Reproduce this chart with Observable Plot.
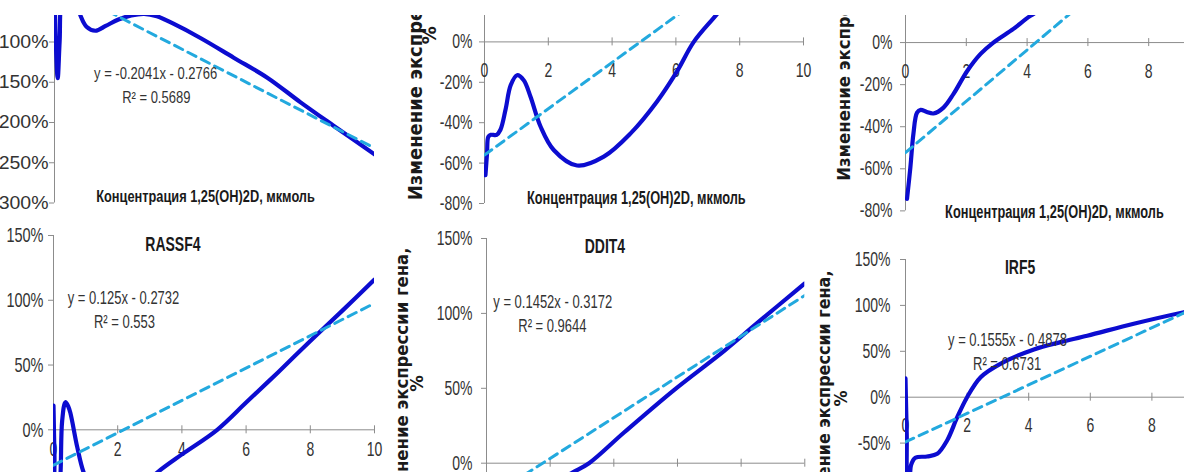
<!DOCTYPE html>
<html><head><meta charset="utf-8">
<script src="https://cdn.jsdelivr.net/npm/d3@7"></script>
<script src="https://cdn.jsdelivr.net/npm/@observablehq/plot@0.6"></script>
<style>
html,body{margin:0;padding:0;background:#fff;}
#fig{position:relative;width:1184px;height:472px;overflow:hidden;background:#fff;}
.row{position:absolute;left:0;width:1184px;overflow:hidden;}
.row svg{position:absolute;max-width:none;}
</style></head><body>
<div id="fig"><div class="row" id="bottom" style="top:0;height:472px"></div><div class="row" id="top" style="top:15px;height:457px"></div></div>
<script>
// ---------- data ----------
const xTicks = [0, 2, 4, 6, 8, 10];
const xTickLabels2 = [0, 2, 4, 6, 8, 10];
const xTickLabels3 = [0, 2, 4, 6, 8];
const xTickLabels4 = [0, 2, 4, 6, 8, 10];
const xTickLabels6 = [0, 2, 4, 6, 8];
const xTitle = "Концентрация 1,25(OH)2D, мкмоль";
const yTitleLine = "Изменение экспрессии гена,";
const yTitleUnit = "%";
const titles = [null, null, null, "RASSF4", "DDIT4", "IRF5"];
const equations = ["y = -0.2041x - 0.2766", null, null, "y = 0.125x - 0.2732", "y = 0.1452x - 0.3172", "y = 0.1555x - 0.4878"];
const r2Labels = ["R² = 0.5689", null, null, "R² = 0.553", "R² = 0.9644", "R² = 0.6731"];

const yTicks1 = [-300, -250, -200, -150, -100];
const yTicks2 = [-80, -60, -40, -20, 0];
const yTicks3 = [-80, -60, -40, -20, 0];
const yTicks4 = [0, 50, 100, 150];
const yTicks5 = [0, 50, 100, 150];
const yTicks6 = [-50, 0, 50, 100, 150];

const curve1X = [0, 0.04, 0.1, 0.16, 0.25, 0.45, 0.65, 0.82, 1.0, 1.28, 1.6, 2.0, 2.4, 2.8, 3.2, 3.7, 4.56, 5.6, 6.65, 7.69, 8.72, 10];
const curve1Y = [-30, -100, -145, -100, -40, -30, -45, -68, -81, -86, -80, -72, -67, -65, -68, -77, -95, -119.5, -144.3, -175, -204, -239.5];
const trend1X = [0, 10];
const trend1Y = [-27.66, -231.76];

const curve2X = [0.03, 0.08, 0.12, 0.2, 0.38, 0.5, 0.66, 0.82, 1.02, 1.23, 1.44, 1.76, 2.17, 2.9, 3.74, 4.58, 5.41, 6.04, 6.56, 7.3, 8, 9, 10];
const curve2Y = [-66, -55, -47, -46, -46, -43.5, -33.5, -21.5, -16.5, -19, -27, -42, -53.5, -61.2, -56.8, -45.3, -29.5, -14.5, 0, 14, 28, 48, 70];
const trend2X = [0, 10];
const trend2Y = [-56, 58.6];

const curve3X = [0.05, 0.16, 0.26, 0.38, 0.5, 0.7, 0.92, 1.25, 1.58, 2.03, 2.47, 2.89, 3.55, 4.11, 5, 6, 8, 10];
const curve3Y = [-74.3, -59.4, -43.4, -33.3, -32, -33, -33.7, -30.9, -24.4, -13.5, -5.4, 0, 6.5, 12.7, 20, 28, 42, 55];
const trend3X = [0, 10];
const trend3Y = [-52.3, 69.7];

const curve4X = [0, 0.03, 0.07, 0.15, 0.22, 0.27, 0.37, 0.46, 0.53, 0.74, 0.94, 1.3, 1.9, 2.6, 3.23, 4.0, 5.1, 6.0, 7.0, 8.0, 9.0, 10];
const curve4Y = [18.7, -20, -60, -60, -33, 7, 21.3, 18, 12.6, -13.4, -33, -52, -58, -48, -33, -19, 0, 21, 44.5, 68.5, 92, 116];
const trend4X = [0, 10];
const trend4Y = [-27.32, 97.68];

const curve5X = [0, 1, 2, 2.7, 3.22, 4.32, 5.9, 7.47, 8.5, 10];
const curve5Y = [-40, -28, -15, -6.2, 0, 20.5, 49, 75, 93.5, 120];
const trend5X = [0, 10];
const trend5Y = [-24, 112];

const curve6X = [0, 0.04, 0.08, 0.12, 0.18, 0.32, 0.7, 1.03, 1.35, 1.68, 2.0, 2.44, 3.08, 4.17, 5.03, 5.9, 7.41, 9.04, 10];
const curve6Y = [20.4, -40, -95, -95, -74, -66, -64.6, -61.7, -47.2, -21.8, 0, 21.8, 36.4, 52, 60, 67, 80, 92.6, 99];
const trend6X = [0, 10];
const trend6Y = [-48.78, 106.72];

// ---------- layout (pixel calibration of each Excel panel) ----------
const AX = "#8c8c8c", TXT = "#333", DARK = "#1a1a1a", BLUE = "#0c0cd0", LBLUE = "#23a9de";
const S_ROT = 1.05;
const pct = d => `${d}%`;

const panels = [
  {row: "top", x0: 54, x10: 374, yA: [-100, 41], yB: [-300, 202], dom: [-300, 0], yTicks: yTicks1, xLabs: [], gap: 6, xDy: 35,
   tickFont: 19.5, tickS: 0.93, textS: 1.28,
   cx: curve1X, cy: curve1Y, tx: trend1X, ty: trend1Y, i: 0,
   eqAt: [[3.16, -146], [3.18, -175.4]], xTitleAt: [4.72, -298.4]},
  {row: "top", x0: 484, x10: 803, yA: [0, 41.7], yB: [-80, 203.3], dom: [-80, 20], yTicks: yTicks2, xLabs: xTickLabels2, gap: 12, xDy: 35,
   rotFont: 18,
   cx: curve2X, cy: curve2Y, tx: trend2X, ty: trend2Y, i: 1,
   xTitleAt: [4.76, -80], yTitleAt: [-1.95, -78.4, "start"], unitAt: [-1.52, 3.3]},
  {row: "top", x0: 905, x10: 1209, yA: [0, 41.7], yB: [-80, 210], dom: [-80, 20], yTicks: yTicks3, xLabs: xTickLabels3, gap: 13, xDy: 35,
   rotFont: 16.5,
   cx: curve3X, cy: curve3Y, tx: trend3X, ty: trend3Y, i: 2,
   xTitleAt: [4.9, -83.3], yTitleAt: [-1.81, -65.7, "start"]},
  {row: "bottom", x0: 53, x10: 374, yA: [0, 429.3], yB: [150, 235], dom: [-50, 150], yTicks: yTicks4, xLabs: xTickLabels4, gap: 10, xDy: 26,
   tickFont: 14.5,
   cx: curve4X, cy: curve4Y, tx: trend4X, ty: trend4Y, i: 3,
   titleAt: [3.72, 138.3], eqAt: [[2.18, 97.5], [2.21, 78.9]]},
  {row: "bottom", x0: 485.7, x10: 804, yA: [0, 462.7], yB: [150, 238], dom: [-50, 150], yTicks: yTicks5, xLabs: [], gap: 14, xDy: 35,
   rotFont: 16.5,
   cx: curve5X, cy: curve5Y, tx: trend5X, ty: trend5Y, i: 4,
   titleAt: [3.72, 140.5], eqAt: [[2.08, 103.7], [2.07, 87.4]], yTitleAt: [-2.48, 144, "end"], unitAt: [-2.01, 53.2]},
  {row: "bottom", x0: 905, x10: 1213, yA: [0, 396.7], yB: [150, 259], dom: [-100, 150], yTicks: yTicks6, xLabs: xTickLabels6, gap: 15, xDy: 35,
   rotFont: 16,
   cx: curve6X, cy: curve6Y, tx: trend6X, ty: trend6Y, i: 5,
   titleAt: [3.72, 134.7], eqAt: [[3.31, 56.3], [3.30, 29.1]], yTitleAt: [-2.44, 138, "end"], unitAt: [-1.89, -1.4]}
];

function build(cfg) {
  const tickFont = cfg.tickFont || 14, tickS = cfg.tickS || 1.45, textS = cfg.textS || 1.45, rotFont = cfg.rotFont || 16;
  const pxX = (cfg.x10 - cfg.x0) / 10;
  const k = (cfg.yB[1] - cfg.yA[1]) / (cfg.yB[0] - cfg.yA[0]);
  const py = v => cfg.yA[1] + (v - cfg.yA[0]) * k;
  const mL = 130, mR = 30, mT = 20, mB = 60;
  const yTop = py(cfg.dom[1]), yBot = py(cfg.dom[0]);
  const width = mL + (cfg.x10 - cfg.x0) + mR;
  const height = mT + (yBot - yTop) + mB;
  const ux = 1 / pxX, uy = -1 / k;
  const curve = cfg.cx.map((x, j) => ({x, y: cfg.cy[j]}));
  const trend = cfg.tx.map((x, j) => ({x, y: cfg.ty[j]}));
  const marks = [
    Plot.ruleX([0], {stroke: AX}),
    Plot.ruleY(cfg.yTicks, {y: d => d, x1: 0, x2: -5 * ux, stroke: AX}),
    Plot.text(cfg.yTicks, {x: 0, y: d => d, text: pct, textAnchor: "end", dx: -cfg.gap, fontSize: tickFont, fill: TXT}),
    Plot.ruleY([0], {x1: 0, x2: 10, stroke: AX}),
    Plot.ruleX(xTicks, {x: d => d, y1: -4 * uy, y2: 4 * uy, stroke: AX}),
    Plot.text(cfg.xLabs, {x: d => d, y: 0, dy: cfg.xDy, text: d => String(d), lineAnchor: "bottom", fontSize: 14, fill: TXT}),
    Plot.line(curve, {x: "x", y: "y", curve: "catmull-rom", stroke: BLUE, strokeWidth: 4.2, strokeLinejoin: "round", clip: true}),
    Plot.line(trend, {x: "x", y: "y", stroke: LBLUE, strokeWidth: 3, strokeDasharray: "9,6", clip: true})
  ];
  const t = titles[cfg.i];
  if (t && cfg.titleAt) marks.push(Plot.text([t], {x: cfg.titleAt[0], y: cfg.titleAt[1], text: d => d, fontSize: 14, fontWeight: "bold", lineAnchor: "bottom", fill: DARK}));
  if (equations[cfg.i] && cfg.eqAt) {
    marks.push(Plot.text([equations[cfg.i]], {x: cfg.eqAt[0][0], y: cfg.eqAt[0][1], text: d => d, fontSize: 13, lineAnchor: "bottom", fill: TXT}));
    marks.push(Plot.text([r2Labels[cfg.i]], {x: cfg.eqAt[1][0], y: cfg.eqAt[1][1], text: d => d, fontSize: 13, lineAnchor: "bottom", fill: TXT}));
  }
  if (cfg.xTitleAt) marks.push(Plot.text([xTitle], {x: cfg.xTitleAt[0], y: cfg.xTitleAt[1], text: d => d, fontSize: 12.8, fontWeight: "bold", lineAnchor: "bottom", fill: DARK}));
  if (cfg.yTitleAt) marks.push(Plot.text([yTitleLine], {x: cfg.yTitleAt[0], y: cfg.yTitleAt[1], text: d => d, rotate: -90, textAnchor: cfg.yTitleAt[2], fontSize: rotFont, fontWeight: "bold", fontFamily: "DejaVu Sans, Verdana, sans-serif", lineAnchor: "bottom", fill: DARK}));
  if (cfg.unitAt) marks.push(Plot.text([yTitleUnit], {x: cfg.unitAt[0], y: cfg.unitAt[1], text: d => d, rotate: -90, textAnchor: "middle", fontSize: rotFont, fontWeight: "bold", fontFamily: "DejaVu Sans, Verdana, sans-serif", lineAnchor: "bottom", fill: DARK}));

  const svg = Plot.plot({
    width, height, marginLeft: mL, marginRight: mR, marginTop: mT, marginBottom: mB,
    x: {domain: [0, 10], axis: null},
    y: {domain: cfg.dom, axis: null},
    style: {background: "transparent", fontFamily: "'Liberation Sans', Arial, sans-serif", maxWidth: "none", overflow: "visible"},
    marks
  });
  svg.querySelectorAll("text").forEach(el => {
    const tr = el.getAttribute("transform");
    if (tr == null) return;
    const g = el.parentNode && el.parentNode.closest ? el.parentNode.closest("[font-size]") : null;
    const fs = g ? g.getAttribute("font-size") : null;
    let s = textS;
    if (tr.includes("rotate")) s = S_ROT;
    else if (fs === String(tickFont)) s = tickS;
    el.setAttribute("transform", tr + ` scale(1,${s})`);
  });
  const off = cfg.row === "top" ? 15 : 0;
  svg.style.left = (cfg.x0 - mL) + "px";
  svg.style.top = (yTop - mT - off) + "px";
  svg.style.position = "absolute";
  document.getElementById(cfg.row).appendChild(svg);
}
panels.forEach(build);
</script>
</body></html>
